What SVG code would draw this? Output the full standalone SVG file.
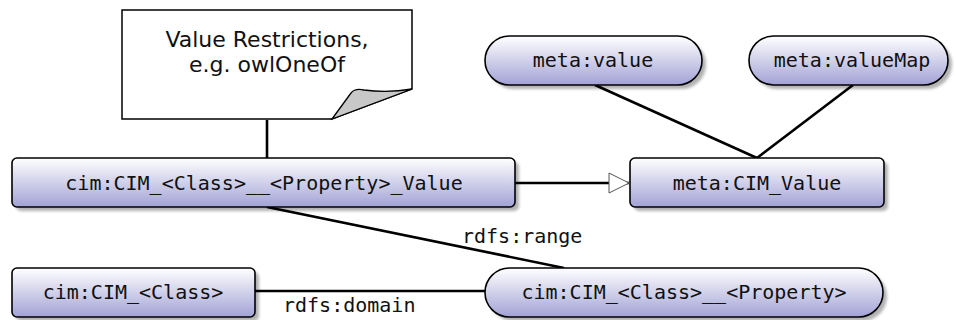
<svg xmlns="http://www.w3.org/2000/svg" width="956" height="320" viewBox="0 0 956 320">
  <style>
    .node { fill: url(#nodeFill); stroke: #000; stroke-width: 1.6; }
    .shadow { fill: #000; opacity: 0.3; filter: url(#soft); }
    .lbl { font-family: "DejaVu Sans Mono", "Liberation Mono", monospace; font-size: 20px; fill: #111; text-anchor: middle; }
    .elbl { font-family: "DejaVu Sans Mono", "Liberation Mono", monospace; font-size: 20px; fill: #111; }
    .edge { fill: none; stroke: #000; stroke-width: 2.6; }
    .note { font-family: "DejaVu Sans", "Liberation Sans", sans-serif; font-size: 22px; fill: #111; text-anchor: middle; }
  </style>
  <defs>
    <linearGradient id="nodeFill" x1="0" y1="0" x2="0" y2="1">
      <stop offset="0" stop-color="#ffffff"/>
      <stop offset="1" stop-color="#a2a2d6"/>
    </linearGradient>
    <filter id="soft" x="-10%" y="-30%" width="120%" height="160%">
      <feGaussianBlur stdDeviation="1.5"/>
    </filter>
    <marker id="hollowTri" viewBox="0 0 22 22" refX="21" refY="11" markerWidth="22" markerHeight="22" markerUnits="userSpaceOnUse" orient="auto">
      <path d="M1,1 L21,11 L1,21 Z" fill="#fff" stroke="#555" stroke-width="1"/>
    </marker>
  </defs>

  <!-- connectors -->
  <g id="connectors">
    <line class="edge" x1="267" y1="120" x2="267" y2="158"/>
    <line class="edge" x1="515" y1="183" x2="629" y2="183" marker-end="url(#hollowTri)"/>
    <line class="edge" x1="595" y1="85" x2="757" y2="158"/>
    <line class="edge" x1="853" y1="85" x2="757" y2="158"/>
    <line class="edge" x1="267" y1="207" x2="564" y2="268"/>
    <text class="elbl" x="462" y="243">rdfs:range</text>
    <line class="edge" x1="255" y1="291" x2="486" y2="291"/>
    <text class="elbl" x="283" y="312">rdfs:domain</text>
  </g>

  <!-- note with curled corner -->
  <g id="note-restrictions">
    <path d="M122,10 H412 V89 L332,119 H122 Z" fill="#fff" stroke="#000" stroke-width="1.5"/>
    <path d="M332,119 L351,93 Q355,88 364,90 Q388,93 412,89 Z" fill="#c8c8c8" stroke="#000" stroke-width="1.3"/>
    <text class="note" x="267" y="47">Value Restrictions,</text>
    <text class="note" x="267" y="72">e.g. owlOneOf</text>
  </g>

  <g id="node-property-value">
    <rect class="shadow" x="16" y="162" width="503" height="49" rx="5"/>
    <rect class="node" x="12" y="158" width="503" height="49" rx="5"/>
    <text class="lbl" x="264" y="190">cim:CIM_&lt;Class&gt;__&lt;Property&gt;_Value</text>
  </g>

  <g id="node-cim-value">
    <rect class="shadow" x="634" y="162" width="254" height="49" rx="5"/>
    <rect class="node" x="630" y="158" width="254" height="49" rx="5"/>
    <text class="lbl" x="757" y="190">meta:CIM_Value</text>
  </g>

  <g id="node-value">
    <rect class="shadow" x="489" y="40" width="217" height="49" rx="24.5"/>
    <rect class="node" x="485" y="36" width="217" height="49" rx="24.5"/>
    <text class="lbl" x="593" y="67">meta:value</text>
  </g>

  <g id="node-valuemap">
    <rect class="shadow" x="753" y="40" width="199" height="49" rx="24.5"/>
    <rect class="node" x="749" y="36" width="199" height="49" rx="24.5"/>
    <text class="lbl" x="852" y="67">meta:valueMap</text>
  </g>

  <g id="node-class">
    <rect class="shadow" x="16" y="272" width="243" height="49" rx="5"/>
    <rect class="node" x="12" y="268" width="243" height="49" rx="5"/>
    <text class="lbl" x="133" y="299">cim:CIM_&lt;Class&gt;</text>
  </g>

  <g id="node-property">
    <rect class="shadow" x="489" y="272" width="398" height="49" rx="24.5"/>
    <rect class="node" x="485" y="268" width="398" height="49" rx="24.5"/>
    <text class="lbl" x="684" y="299">cim:CIM_&lt;Class&gt;__&lt;Property&gt;</text>
  </g>
</svg>
